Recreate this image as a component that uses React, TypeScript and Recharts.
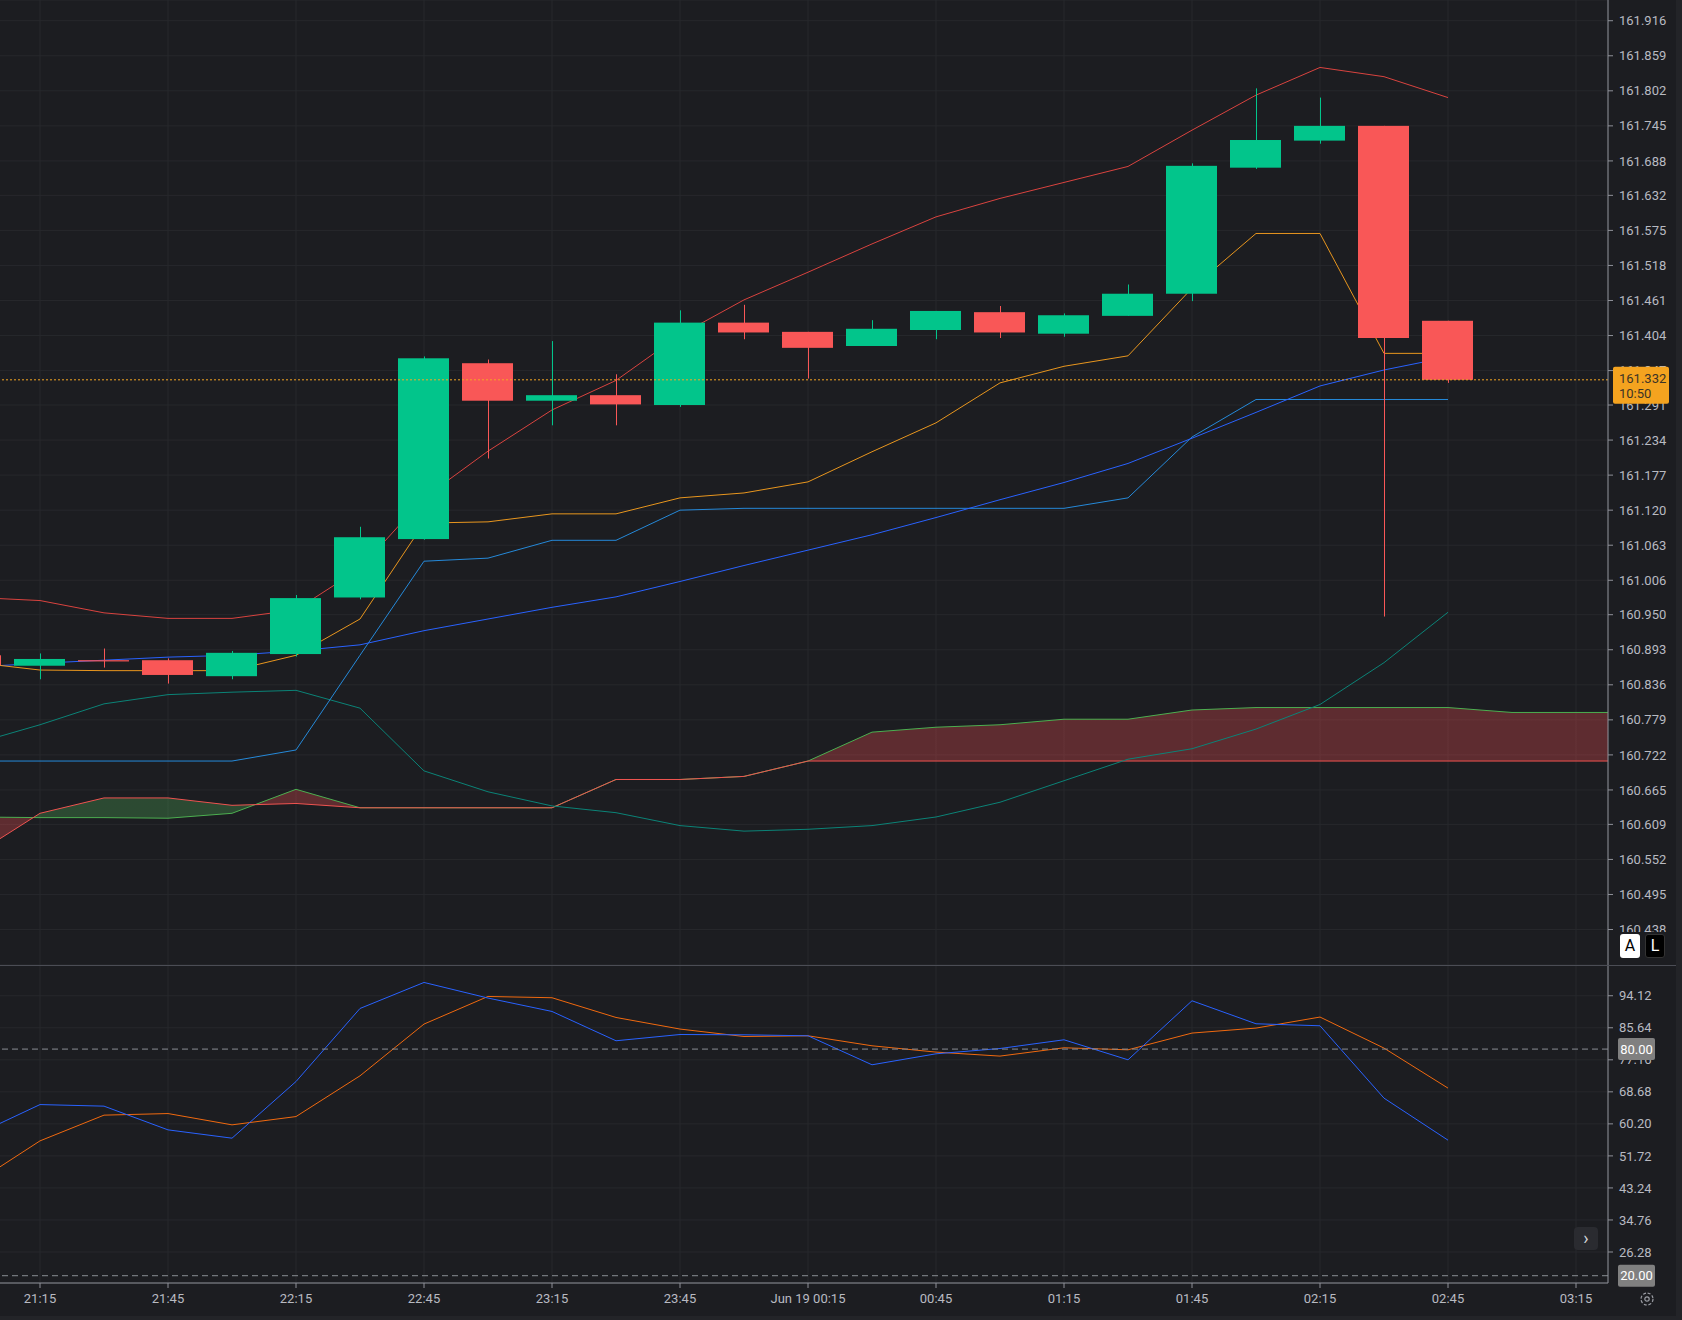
import React from 'react';
import { ComposedChart, Bar, Line, Area, XAxis, YAxis, CartesianGrid, ReferenceLine } from 'recharts';

// 15 minute slots, index 0 = 21:00 (only half visible on the left)
const times = ['21:00', '21:15', '21:30', '21:45', '22:00', '22:15', '22:30', '22:45', '23:00', '23:15', '23:30', '23:45', '00:00',
    'Jun 19 00:15', '00:30', '00:45', '01:00', '01:15', '01:30', '01:45', '02:00', '02:15', '02:30', '02:45', '03:00', '03:15', '03:30'];
const timeTicks = [1, 3, 5, 7, 9, 11, 13, 15, 17, 19, 21, 23, 25];

const opens = [160.884, 160.867, 160.876, 160.876, 160.850, 160.886, 160.978, 161.073, 161.359, 161.298, 161.307, 161.291,
    161.425, 161.410, 161.387, 161.413, 161.442, 161.407, 161.436, 161.472, 161.677, 161.721, 161.745, 161.428];
const highs = [160.890, 160.887, 160.895, 160.879, 160.891, 160.982, 161.093, 161.370, 161.365, 161.395, 161.341, 161.445,
    161.454, 161.410, 161.429, 161.444, 161.452, 161.440, 161.487, 161.684, 161.806, 161.791, 161.745, 161.428];
const lows = [160.862, 160.845, 160.864, 160.838, 160.845, 160.882, 160.975, 161.072, 161.204, 161.258, 161.258, 161.288,
    161.398, 161.334, 161.387, 161.398, 161.400, 161.402, 161.436, 161.460, 161.675, 161.716, 160.947, 161.327];
const closes = [160.868, 160.878, 160.874, 160.852, 160.888, 160.977, 161.076, 161.367, 161.298, 161.307, 161.292, 161.425,
    161.409, 161.384, 161.415, 161.444, 161.409, 161.437, 161.472, 161.680, 161.722, 161.745, 161.400, 161.332];

const upperBand = [160.978, 160.973, 160.953, 160.944, 160.944, 160.958, 161.025, 161.140, 161.216, 161.283, 161.331, 161.405,
    161.462, 161.507, 161.553, 161.597, 161.627, 161.653, 161.679, 161.738, 161.795, 161.840, 161.825, 161.791];
const midLine = [160.872, 160.860, 160.859, 160.859, 160.859, 160.884, 160.943, 161.099, 161.101, 161.114, 161.114, 161.140,
    161.148, 161.166, 161.215, 161.262, 161.327, 161.354, 161.371, 161.481, 161.570, 161.570, 161.375, 161.375];
const maLine = [160.865, 160.871, 160.876, 160.881, 160.884, 160.891, 160.901, 160.924, 160.943, 160.962, 160.979, 161.004,
    161.030, 161.055, 161.080, 161.108, 161.137, 161.165, 161.196, 161.237, 161.279, 161.322, 161.348, 161.369];
const baseLine = [160.712, 160.712, 160.712, 160.712, 160.712, 160.730, 160.884, 161.037, 161.042, 161.071, 161.071, 161.120,
    161.123, 161.123, 161.123, 161.123, 161.123, 161.123, 161.140, 161.239, 161.300, 161.300, 161.300, 161.300];
const lagLine = [160.741, 160.771, 160.805, 160.820, 160.824, 160.827, 160.798, 160.696, 160.662, 160.639, 160.628, 160.607,
    160.598, 160.601, 160.607, 160.621, 160.645, 160.680, 160.715, 160.732, 160.764, 160.804, 160.872, 160.954];

// cloud runs past the last candle
const spanA = [160.621, 160.620, 160.620, 160.619, 160.627, 160.666, 160.636, 160.636, 160.636, 160.636, 160.682, 160.682,
    160.687, 160.712, 160.759, 160.767, 160.771, 160.780, 160.780, 160.795, 160.799, 160.799, 160.799, 160.799, 160.791, 160.791, 160.791];
const spanB = [160.561, 160.627, 160.652, 160.652, 160.640, 160.643, 160.636, 160.636, 160.636, 160.636, 160.682, 160.682,
    160.687, 160.712, 160.712, 160.712, 160.712, 160.712, 160.712, 160.712, 160.712, 160.712, 160.712, 160.712, 160.712, 160.712, 160.712];

const stochK = [57.34, 65.31, 64.89, 58.61, 56.41, 71.41, 90.75, 97.64, 93.51, 89.96, 82.20, 83.86, 83.78, 83.52, 75.84, 78.75,
    80.15, 82.46, 77.16, 92.79, 86.70, 86.17, 67.01, 55.88];
const stochD = [44.70, 55.70, 62.51, 62.93, 59.94, 62.13, 72.92, 86.62, 93.93, 93.59, 88.37, 85.30, 83.33, 83.52, 80.87, 79.20,
    78.14, 80.34, 79.81, 84.24, 85.56, 88.48, 80.26, 69.66];

const priceTicks = [161.916, 161.859, 161.802, 161.745, 161.688, 161.632, 161.575, 161.518, 161.461, 161.404, 161.347, 161.291,
    161.234, 161.177, 161.120, 161.063, 161.006, 160.950, 160.893, 160.836, 160.779, 160.722, 160.665, 160.609, 160.552, 160.495, 160.438];
const oscTicks = [94.12, 85.64, 77.16, 68.68, 60.20, 51.72, 43.24, 34.76, 26.28];
const oscLevels = [80, 20];
const lastPrice = 161.332;
const lastCountdown = '10:50';

const PRICE_DOMAIN = [160.3803, 161.9497];
const OSC_DOMAIN = [18.07, 102.26];
const X_DOMAIN = [-0.5, 25.5];

const BG = '#1c1d21';
const GRID = '#27282c';
const AXIS = '#8f9199';
const TEXT = '#b8bac1';
const UP = '#02c58b';
const DOWN = '#f95757';
const FONT = "'Liberation Sans Narrow', Roboto, sans-serif";

const rows = times.map((t, i) => ({
    i,
    open: opens[i], high: highs[i], low: lows[i], close: closes[i],
    upper: upperBand[i], mid: midLine[i], ma: maLine[i], base: baseLine[i], lag: lagLine[i],
    a: spanA[i], b: spanB[i],
    k: stochK[i], d: stochD[i],
}));

// gradient stops so the cloud is red where spanA is on top and green where spanB is on top
const cloudStops = () => {
    const n = spanA.length - 1;
    const red = 'rgb(248,79,83)';
    const green = 'rgb(81,179,90)';
    const diffs = spanA.map((v, i) => v - spanB[i]);
    let cur = diffs[0] >= 0 ? red : green;
    const stops: { off: number; color: string }[] = [{ off: 0, color: cur }];
    for (let i = 0; i < n; i++) {
        const d0 = diffs[i], d1 = diffs[i + 1];
        if (d0 * d1 < 0) {
            const t = i + d0 / (d0 - d1);
            stops.push({ off: t / n, color: cur });
            cur = d1 > 0 ? red : green;
            stops.push({ off: t / n, color: cur });
        }
    }
    stops.push({ off: 1, color: cur });
    return stops;
};

const Candle = (props: any) => {
    const { x, y, width, height, payload } = props;
    if (!payload || payload.high == null) return null;
    const { open, close, high, low } = payload;
    const top = Math.min(y, y + height);
    const h = Math.abs(height);
    const k = high === low ? 0 : h / (high - low);
    const yo = top + (high - open) * k;
    const yc = top + (high - close) * k;
    const color = close >= open ? UP : DOWN;
    const cx = Math.round(x + width / 2) + 0.5;
    return (
        <g>
            <line x1={cx} x2={cx} y1={top} y2={top + h} stroke={color} strokeWidth={1} />
            <rect x={x} y={Math.min(yo, yc)} width={width} height={Math.max(1, Math.abs(yo - yc))} fill={color} />
        </g>
    );
};

const PriceTag = ({ viewBox }: any) => {
    if (!viewBox) return null;
    const x = viewBox.x + viewBox.width + 5;
    const y = viewBox.y;
    return (
        <g>
            <rect x={x} y={y - 13} width={56} height={37} rx={2} fill="#f4a31f" />
            <text x={x + 6} y={y + 3} fill="#3b3326" fontSize={13} fontFamily={FONT}>{lastPrice.toFixed(3)}</text>
            <text x={x + 6} y={y + 18} fill="#3b3326" fontSize={13} fontFamily={FONT}>{lastCountdown}</text>
        </g>
    );
};

const LevelTag = ({ viewBox, value }: any) => {
    if (!viewBox) return null;
    const x = viewBox.x + viewBox.width + 10;
    const y = viewBox.y;
    return (
        <g>
            <rect x={x} y={y - 11} width={37} height={22} rx={2} fill="#808080" />
            <text x={x + 18.5} y={y + 4.5} textAnchor="middle" fill="#ffffff" fontSize={13} fontFamily={FONT}>{value.toFixed(2)}</text>
        </g>
    );
};

const tickStyle = { fill: TEXT, fontSize: 13, fontFamily: FONT };
const noMargin = { top: 0, right: 0, bottom: 0, left: 0 };
const tagMargin = { top: 0, right: 74, bottom: 0, left: 0 };
const overlay: React.CSSProperties = { position: 'absolute', left: -56, pointerEvents: 'none' };

const App: React.FC = () => {
    const stops = cloudStops();
    return (
        <div style={{ position: 'fixed', left: 0, top: 0, width: 1682, height: 1320, background: BG, overflow: 'hidden', fontFamily: FONT }}>
            <div style={{ ...overlay, top: 0 }}>
                <ComposedChart width={1738} height={965} data={rows} margin={noMargin}>
                    <defs>
                        <linearGradient id="cloudFill" x1="0" y1="0" x2="1" y2="0">
                            {stops.map((s, idx) => (
                                <stop key={idx} offset={s.off} stopColor={s.color} stopOpacity={0.3} />
                            ))}
                        </linearGradient>
                    </defs>
                    <CartesianGrid stroke={GRID} />
                    <XAxis type="number" dataKey="i" domain={X_DOMAIN} ticks={timeTicks} allowDataOverflow hide />
                    <YAxis orientation="right" width={74} domain={PRICE_DOMAIN} ticks={priceTicks} interval={0}
                        allowDataOverflow tickFormatter={(v: number) => v.toFixed(3)} tick={tickStyle}
                        axisLine={{ stroke: AXIS }} tickLine={{ stroke: AXIS }} tickSize={5} tickMargin={6} />
                    <Area dataKey={(r: any) => [r.b, r.a]} stroke="none" fill="url(#cloudFill)" fillOpacity={1}
                        isAnimationActive={false} activeDot={false} />
                    <Line dataKey="a" stroke="#4caf50" strokeWidth={1} dot={false} activeDot={false} isAnimationActive={false} />
                    <Line dataKey="b" stroke="#ef5350" strokeWidth={1} dot={false} activeDot={false} isAnimationActive={false} />
                    <Line dataKey="lag" stroke="#0b8377" strokeWidth={1} dot={false} activeDot={false} isAnimationActive={false} />
                    <Line dataKey="base" stroke="#2589d9" strokeWidth={1} dot={false} activeDot={false} isAnimationActive={false} />
                    <Line dataKey="ma" stroke="#2962ff" strokeWidth={1} dot={false} activeDot={false} isAnimationActive={false} />
                    <Line dataKey="mid" stroke="#e8961e" strokeWidth={1} dot={false} activeDot={false} isAnimationActive={false} />
                    <Line dataKey="upper" stroke="#d9433f" strokeWidth={1} dot={false} activeDot={false} isAnimationActive={false} />
                    <Bar dataKey={(r: any) => (r.high == null ? null : [r.low, r.high])} barSize={51} shape={<Candle />}
                        isAnimationActive={false} zIndex={450} />
                    <ReferenceLine y={lastPrice} stroke="#f5a623" strokeDasharray="2 2" zIndex={470} />
                </ComposedChart>
            </div>
            {/* tag layer drawn above the price axis labels */}
            <div style={{ ...overlay, top: 0 }}>
                <ComposedChart width={1738} height={965} data={rows} margin={tagMargin}>
                    <XAxis type="number" dataKey="i" domain={X_DOMAIN} allowDataOverflow hide />
                    <YAxis domain={PRICE_DOMAIN} allowDataOverflow hide />
                    <ReferenceLine y={lastPrice} stroke="none" label={(p: any) => <PriceTag viewBox={p.viewBox} />} />
                </ComposedChart>
            </div>
            <div style={{ ...overlay, top: 965 }}>
                <ComposedChart width={1738} height={355} data={rows} margin={noMargin}>
                    <CartesianGrid stroke={GRID} />
                    <XAxis type="number" dataKey="i" domain={X_DOMAIN} ticks={timeTicks} interval={0} allowDataOverflow
                        height={37} tickFormatter={(v: number) => times[v]} tick={tickStyle}
                        axisLine={{ stroke: AXIS }} tickLine={{ stroke: AXIS }} tickSize={5} tickMargin={6} />
                    <YAxis orientation="right" width={74} domain={OSC_DOMAIN} ticks={oscTicks} interval={0}
                        allowDataOverflow tickFormatter={(v: number) => v.toFixed(2)} tick={tickStyle}
                        axisLine={{ stroke: AXIS }} tickLine={{ stroke: AXIS }} tickSize={5} tickMargin={6} />
                    <Line dataKey="d" stroke="#f0690f" strokeWidth={1} dot={false} activeDot={false} isAnimationActive={false} />
                    <Line dataKey="k" stroke="#2962ff" strokeWidth={1} dot={false} activeDot={false} isAnimationActive={false} />
                    {oscLevels.map((lv) => (
                        <ReferenceLine key={lv} y={lv} stroke="#8a8d94" strokeDasharray="6 4" />
                    ))}
                </ComposedChart>
            </div>
            <div style={{ ...overlay, top: 965 }}>
                <ComposedChart width={1738} height={355} data={rows} margin={{ top: 0, right: 74, bottom: 37, left: 0 }}>
                    <XAxis type="number" dataKey="i" domain={X_DOMAIN} allowDataOverflow hide />
                    <YAxis domain={OSC_DOMAIN} allowDataOverflow hide />
                    {oscLevels.map((lv) => (
                        <ReferenceLine key={lv} y={lv} stroke="none"
                            label={(p: any) => <LevelTag viewBox={p.viewBox} value={lv} />} />
                    ))}
                </ComposedChart>
            </div>
            <div style={{ position: 'absolute', left: 0, top: 965, width: 1676, height: 1, background: '#4b4d55' }} />
            <div style={{ position: 'absolute', left: 1609, top: 932, width: 67, height: 32, background: BG }} />
            <div style={{ position: 'absolute', left: 1620, top: 934, width: 20, height: 24, background: '#ffffff', borderRadius: 3,
                color: '#000', fontSize: 16, lineHeight: '24px', textAlign: 'center', fontFamily: 'Roboto' }}>A</div>
            <div style={{ position: 'absolute', left: 1645, top: 934, width: 20, height: 24, background: '#000000', borderRadius: 3,
                color: '#fff', fontSize: 16, lineHeight: '22px', textAlign: 'center', fontFamily: 'Roboto', boxSizing: 'border-box',
                border: '1px solid #333' }}>L</div>
            <div style={{ position: 'absolute', left: 1574, top: 1227, width: 24, height: 23, background: '#2a2b30', borderRadius: 4,
                color: '#d0d2d8', fontSize: 18, lineHeight: '22px', textAlign: 'center', fontFamily: 'Roboto' }}>›</div>
            <svg style={{ position: 'absolute', left: 1638, top: 1290 }} width={18} height={18}>
                <circle cx={9} cy={9} r={6} fill="none" stroke="#9a9ca3" strokeWidth={1.2} strokeDasharray="3 1.7" />
                <circle cx={9} cy={9} r={2.2} fill="none" stroke="#9a9ca3" strokeWidth={1.2} />
            </svg>
            <div style={{ position: 'absolute', left: 1676, top: 0, width: 6, height: 1320, background: '#232428' }} />
            <div style={{ position: 'absolute', left: 0, top: 1316, width: 1682, height: 4, background: '#232428' }} />
        </div>
    );
};

export default App;
